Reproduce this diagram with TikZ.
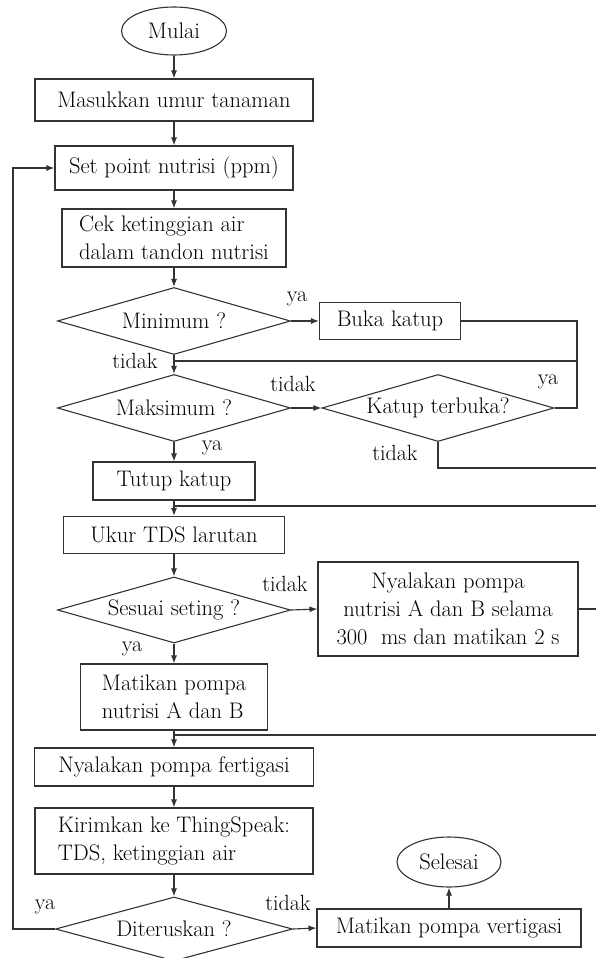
\documentclass[tikz,border=0pt]{standalone}
\usepackage{tikz}
\usetikzlibrary{positioning}
\usetikzlibrary{arrows.meta,shapes}
\usetikzlibrary{calc}

\begin{document}
\begin{tikzpicture}[x=1pt,y=-1pt,
	every node/.style={font=\fontsize{22.5}{28}\selectfont},
	garis/.style={line width=1.1pt, draw=black!80},
	kotak/.style={garis, rectangle, inner sep=0pt},
	belah/.style={garis, diamond, shape aspect=3.5, inner sep=0pt, minimum width=233pt, minimum height=67pt},
	elips/.style={garis, ellipse, inner sep=0pt},
	panah/.style={garis, -{Latex[length=8pt,width=6pt]}},
	label ket/.style={inner sep=0pt, font=\fontsize{22}{26}\selectfont}
	]

	\def\mx{174};
	\def\ra{600};
	\def\rb{606};

	\useasboundingbox (0,0) rectangle (595,958);

	% kolom utama
	\node[elips, minimum width=105pt, minimum height=48pt] (mulai) at (\mx,31) {Mulai};
	\node[kotak, minimum width=278pt, minimum height=42pt] (masuk) at (\mx,100) {Masukkan umur tanaman};
	\node[kotak, minimum width=238pt, minimum height=44pt] (setpoint) at (\mx,168) {Set point nutrisi (ppm)};
	\node[kotak, minimum width=224pt, minimum height=58pt, align=left] (cek) at (\mx,238) {Cek ketinggian air\\dalam tandon nutrisi};
	\node[belah] (minimum) at (\mx,321) {Minimum ?};
	\node[belah] (maksimum) at (\mx,408) {Maksimum ?};
	\node[kotak, minimum width=162pt, minimum height=38pt] (tutup) at (\mx,481) {Tutup katup};
	\node[kotak, minimum width=221pt, minimum height=37pt] (ukur) at (\mx,535) {Ukur TDS larutan};
	\node[belah, minimum height=66pt] (sesuai) at (\mx,610) {Sesuai seting ?};
	\node[kotak, minimum width=187pt, minimum height=66pt, align=left] (matiAB) at (\mx,697) {Matikan pompa\\nutrisi A dan B};
	\node[kotak, minimum width=279pt, minimum height=38pt] (fertigasi) at (\mx,767) {Nyalakan pompa fertigasi};
	\node[kotak, minimum width=278pt, minimum height=66pt, align=left] (kirim) at (\mx,841) {Kirimkan ke ThingSpeak:\\TDS, ketinggian air};
	\node[belah, minimum width=237pt, minimum height=64pt] (lanjut) at (\mx,929) {Diteruskan ?};

	% kolom kanan
	\node[kotak, minimum width=141pt, minimum height=37pt] (buka) at (390,321) {Buka katup};
	\node[belah, minimum width=232pt] (katup) at (438,408) {Katup terbuka?};
	\node[kotak, minimum width=260pt, minimum height=94pt, align=center] (nyalaAB) at (448,609) {Nyalakan pompa\\nutrisi A dan B selama\\300~ ms dan matikan 2 s};
	\node[kotak, minimum width=264pt, minimum height=38pt] (matiV) at (449,928) {Matikan pompa vertigasi};
	\node[elips, minimum width=104pt, minimum height=50pt] (selesai) at (449,862) {Selesai};

	\foreach \a/\b in {mulai/masuk, masuk/setpoint, setpoint/cek, cek/minimum, minimum/maksimum, maksimum/tutup, tutup/ukur, ukur/sesuai, sesuai/matiAB, matiAB/fertigasi, fertigasi/kirim, kirim/lanjut}
		\draw[panah] (\a.south) -- (\b.north);
	\foreach \a/\b in {minimum/buka, maksimum/katup, sesuai/nyalaAB, lanjut/matiV}
		\draw[panah] (\a.east) -- (\b.west);
	\draw[panah] (matiV.north) -- (selesai.south);

	% sambungan balik
	\coordinate (k1) at (577,361);
	\coordinate (j1) at (\mx,361);
	\draw[garis] (buka.east) -| (k1) -- (j1);
	\draw[garis] (katup.east) -| (k1);

	\coordinate (k2) at (\ra,506);
	\coordinate (j2) at (\mx,506);
	\draw[garis] (nyalaAB.east) -| (k2) -- (j2);

	\coordinate (k3) at (\rb,468);
	\coordinate (k4) at (\rb,735);
	\coordinate (j3) at (\mx,735);
	\draw[garis] (katup.south) |- (k3) -- (k4) -- (j3);

	\coordinate (k5) at (13,929);
	\draw[panah] (lanjut.west) -- (k5) |- (setpoint.west);

	% label ya / tidak
	\foreach \nama/\x/\y/\teks in {ya1/297/299/ya, tidak1/135/361/tidak, tidak2/293/384/tidak, ya2/212/448/ya, ya3/548/382/ya, tidak3/395/453/tidak, tidak4/285/584/tidak, ya4/132/649/ya, ya5/45/907/ya, tidak5/288/903/tidak}
		\node[label ket] (\nama) at (\x,\y) {\teks};

\end{tikzpicture}
\end{document}
